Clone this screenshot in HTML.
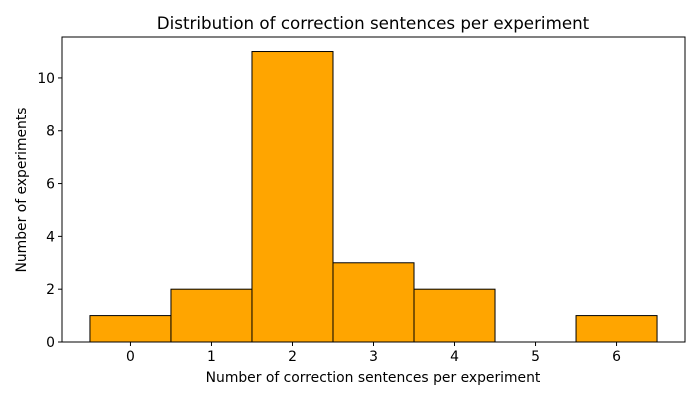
<!DOCTYPE html>
<html><head><meta charset="utf-8">
<style>
body{margin:0;background:#fff;}
svg{display:block;font-family:"DejaVu Sans","Liberation Sans",sans-serif;}
</style></head>
<body>
<svg id="chart" width="700" height="400">
<text x="373" y="29" font-size="16.7" text-anchor="middle">Distribution of correction sentences per experiment</text>
<g id="bars"></g>
<g id="xticks"></g>
<g id="yticks"></g>
<rect x="62" y="37" width="623" height="305" fill="none" stroke="#000" stroke-width="1"/>
<text x="373" y="382" font-size="13.9" text-anchor="middle">Number of correction sentences per experiment</text>
<text transform="translate(26,190) rotate(-90)" font-size="13.9" text-anchor="middle">Number of experiments</text>
</svg>
<script>
const categories = [0, 1, 2, 3, 4, 5, 6];
const counts = [1, 2, 11, 3, 2, 0, 1];
const xTickLabels = ["0","1","2","3","4","5","6"];
const yTickValues = [0, 2, 4, 6, 8, 10];

const L=62,R=685,T=37,B=342;
const xMin=-0.845,xMax=6.845,yMin=0,yMax=11.55;
const xs=v=>L+(v-xMin)/(xMax-xMin)*(R-L);
const ys=v=>B-(v-yMin)/(yMax-yMin)*(B-T);
const NS="http://www.w3.org/2000/svg";
const bars=document.getElementById('bars');
categories.forEach((c,i)=>{
  if(counts[i]<=0) return;
  const r=document.createElementNS(NS,'rect');
  r.setAttribute('x',xs(c-0.5));
  r.setAttribute('y',ys(counts[i]));
  r.setAttribute('width',xs(c+0.5)-xs(c-0.5));
  r.setAttribute('height',ys(0)-ys(counts[i]));
  r.setAttribute('fill','#ffa500');
  r.setAttribute('stroke','#000');
  r.setAttribute('stroke-width','1');
  
  
  bars.appendChild(r);
});
const xg=document.getElementById('xticks');
categories.forEach((c,i)=>{
  const x=xs(c);
  const l=document.createElementNS(NS,'line');
  l.setAttribute('x1',x);l.setAttribute('x2',x);l.setAttribute('y1',B);l.setAttribute('y2',B+4);
  l.setAttribute('stroke','#000');
  
  
  xg.appendChild(l);
  const t=document.createElementNS(NS,'text');
  t.setAttribute('x',x);t.setAttribute('y',B+19);t.setAttribute('font-size','13.9');t.setAttribute('text-anchor','middle');
  t.textContent=xTickLabels[i];
  
  
  xg.appendChild(t);
});
const yg=document.getElementById('yticks');
yTickValues.forEach(v=>{
  const y=ys(v);
  const l=document.createElementNS(NS,'line');
  l.setAttribute('x1',L-4);l.setAttribute('x2',L);l.setAttribute('y1',y);l.setAttribute('y2',y);
  l.setAttribute('stroke','#000');
  
  
  yg.appendChild(l);
  const t=document.createElementNS(NS,'text');
  t.setAttribute('x',L-7);t.setAttribute('y',y+5);t.setAttribute('font-size','13.9');t.setAttribute('text-anchor','end');
  t.textContent=String(v);
  
  
  yg.appendChild(t);
});
</script>
</body></html>
